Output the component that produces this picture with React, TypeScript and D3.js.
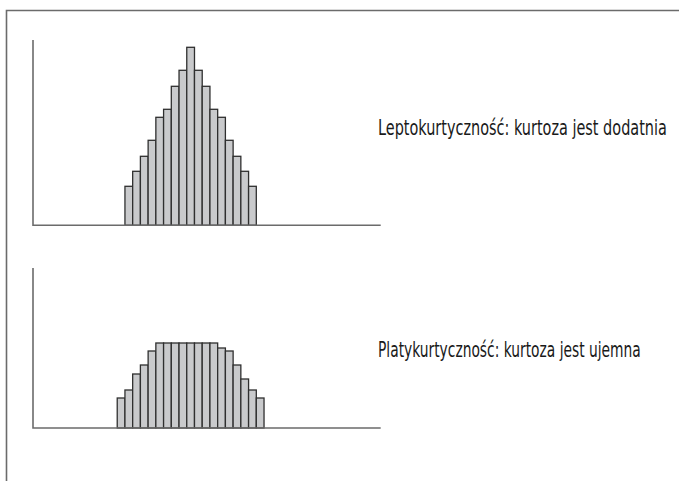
import { useEffect, useRef } from 'react';
import * as d3 from 'd3';

// bin centers (shared x units) and bar heights
const leptoBins = d3.range(-8, 9);
const leptoValues = [39, 54, 69, 85, 108, 116, 139, 155, 178, 155, 139, 116, 108, 85, 69, 54, 39];

const platyBins = d3.range(-9, 10);
const platyValues = [30, 38, 54, 63, 77, 85, 85, 85, 85, 85, 85, 85, 85, 80, 77, 63, 49, 38, 30];

const labels = [
  'Leptokurtyczność: kurtoza jest dodatnia',
  'Platykurtyczność: kurtoza jest ujemna',
];

export default function App() {
  const svgRef = useRef<SVGSVGElement>(null);

  useEffect(() => {
    if (!svgRef.current) return;
    const svg = d3.select(svgRef.current);
    svg.selectAll('*').remove();

    const width = 679;
    const height = 481;

    // outer frame: top and left edges only
    svg
      .append('path')
      .attr('d', `M6.5,${height} V10.5 H${width}`)
      .attr('fill', 'none')
      .attr('stroke', '#6b6b6b')
      .attr('stroke-width', 1.6);

    const xScale = d3.scaleLinear().domain([-20.4, 24.6]).range([33, 380.7]);
    const binW = xScale(1) - xScale(0);

    const panels = [
      { bins: leptoBins, values: leptoValues, top: 40, base: 225.3, label: labels[0], lx: 378, ly: 135, lw: 289 },
      { bins: platyBins, values: platyValues, top: 268, base: 428, label: labels[1], lx: 378, ly: 357, lw: 263 },
    ];

    panels.forEach((p) => {
      const yScale = d3
        .scaleLinear()
        .domain([0, p.base - p.top])
        .range([p.base, p.top]);

      const g = svg.append('g');

      g.selectAll('rect')
        .data(p.values)
        .join('rect')
        .attr('x', (_, i) => xScale(p.bins[i]) - binW / 2)
        .attr('y', (d) => yScale(d))
        .attr('width', binW)
        .attr('height', (d) => yScale(0) - yScale(d))
        .attr('fill', '#c9cacc')
        .attr('stroke', '#2f2f2f')
        .attr('stroke-width', 1.3);

      // axes (plain lines, no ticks)
      g.append('path')
        .attr('d', `M${xScale.range()[0]},${yScale.range()[1]} V${yScale(0)} H${xScale.range()[1]}`)
        .attr('fill', 'none')
        .attr('stroke', '#6b6b6b')
        .attr('stroke-width', 1.6);

      // condensed label: squeeze horizontally to the measured width
      const label = g
        .append('text')
        .attr('font-family', '"Liberation Sans Narrow", "DejaVu Sans Condensed", sans-serif')
        .attr('font-size', 21)
        .attr('fill', '#1a1a1a')
        .text(p.label);
      const natural = (label.node() as SVGTextElement).getComputedTextLength() || p.lw;
      label.attr('transform', `translate(${p.lx},${p.ly}) scale(${p.lw / natural},1)`);
    });
  }, []);

  return (
    <svg
      ref={svgRef}
      width={679}
      height={481}
      style={{ position: 'absolute', left: 0, top: 0, background: '#fff' }}
    />
  );
}
